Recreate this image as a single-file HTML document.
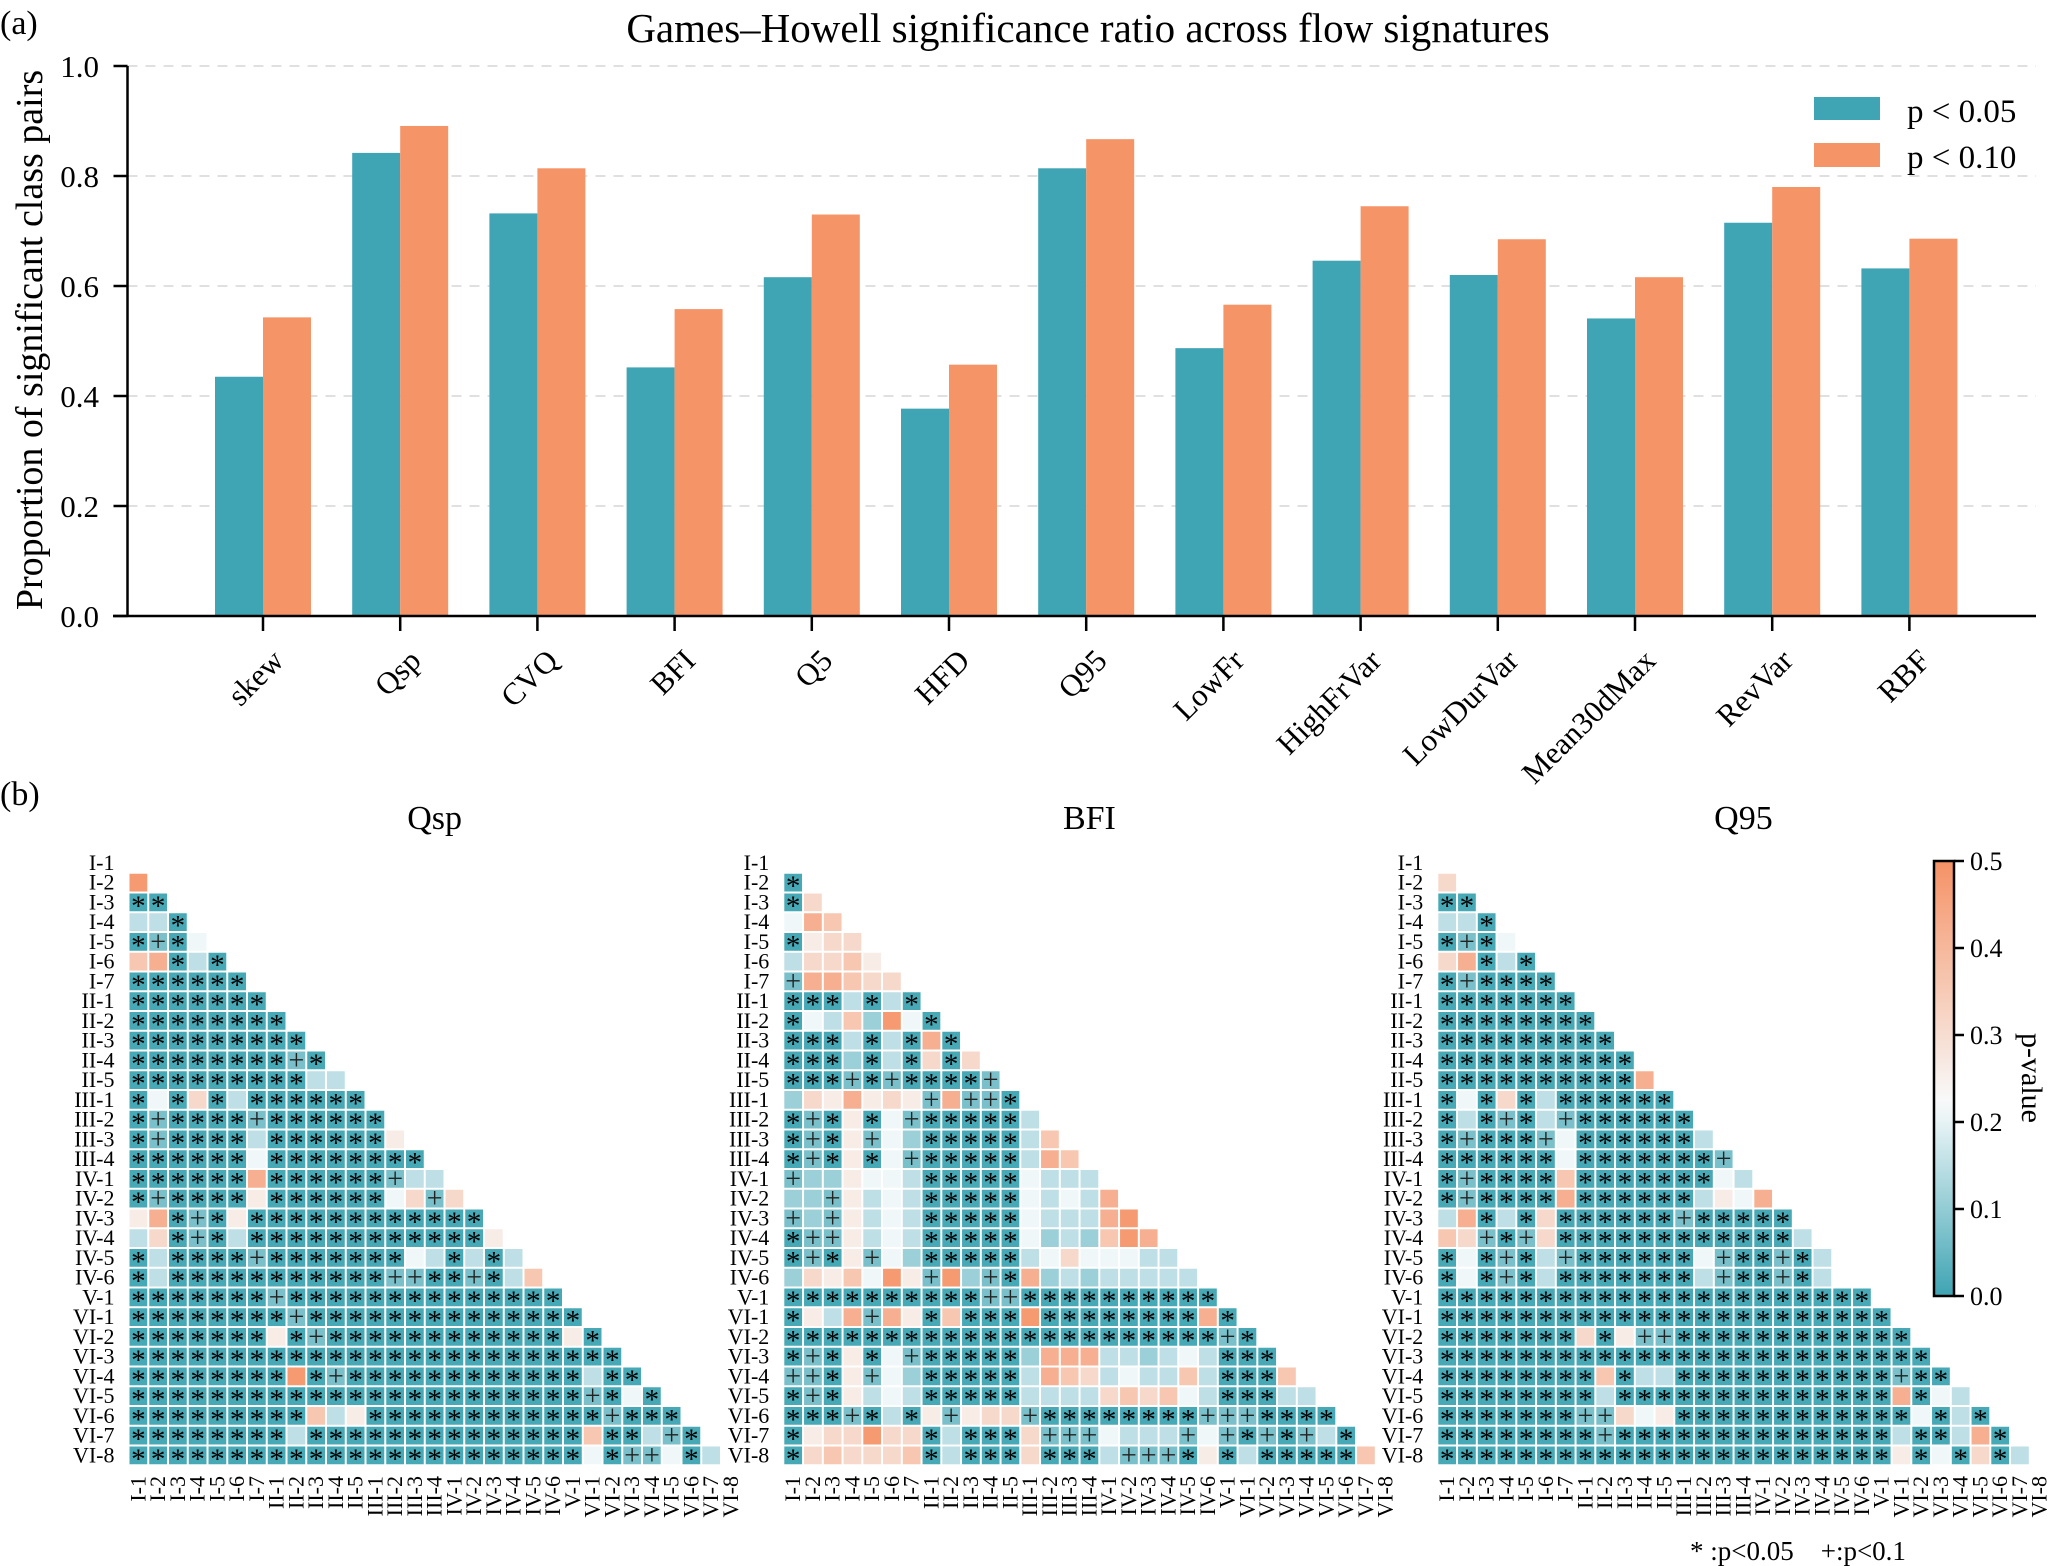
<!DOCTYPE html>
<html><head><meta charset="utf-8"><style>
body{margin:0;background:#fff;}
svg{display:block;font-family:"Liberation Serif",serif;}
</style></head><body>
<svg id="fig" width="2067" height="1566" viewBox="0 0 2067 1566" xmlns="http://www.w3.org/2000/svg">
<rect width="2067" height="1566" fill="#fff"/>
<text x="0" y="34" font-size="34">(a)</text>
<text x="1088" y="42" font-size="41" text-anchor="middle">Games–Howell significance ratio across flow signatures</text>
<text x="0" y="805" font-size="34">(b)</text>
<text transform="translate(42,340) rotate(-90)" font-size="38" text-anchor="middle">Proportion of significant class pairs</text>
<g id="bars"></g>
<g id="heat"></g>
<text x="1690" y="1560" font-size="27" xml:space="preserve">* :p&lt;0.05    +:p&lt;0.1</text>
</svg>
<script>
const categories=["skew","Qsp","CVQ","BFI","Q5","HFD","Q95","LowFr","HighFrVar","LowDurVar","Mean30dMax","RevVar","RBF"];
const p05=[0.435,0.842,0.732,0.452,0.616,0.377,0.814,0.487,0.646,0.620,0.541,0.715,0.632];
const p10=[0.543,0.891,0.814,0.558,0.730,0.457,0.867,0.566,0.745,0.685,0.616,0.780,0.686];
const yTicks=["0.0","0.2","0.4","0.6","0.8","1.0"];
const classLabels=["I-1","I-2","I-3","I-4","I-5","I-6","I-7","II-1","II-2","II-3","II-4","II-5","III-1","III-2","III-3","III-4","IV-1","IV-2","IV-3","IV-4","IV-5","IV-6","V-1","VI-1","VI-2","VI-3","VI-4","VI-5","VI-6","VI-7","VI-8"];
const pLevels=[0.01,0.07,0.11,0.15,0.21,0.26,0.31,0.36,0.42,0.48];
const cbTicks=["0.0","0.1","0.2","0.3","0.4","0.5"];
const qspRows=["","9","00","330","0104","78030","000000","0000000","00000000","000000000","0000000010","00000000033",
"040603000000","0100001000000","01000030000005","000000400000000","0000008000000133","01000050000004616","580105000000000000","3601030000000000005","03000010000000430303","030000000000011001037",
"0000000100000000000000","00000000100000000000000","000000050100000000000050","0000000000000000000000000","00000000901000000000000300","000000000000000000000001040","0000000007350000000000001000","00000000300000000000000700310","000000000000000000000004011403"];
const bfiRows=["","0","06","487","0566","36675","188766","0003030","04372940","000303080","0002030606","00010100001",
"265856518110","0105041000003","01051420000037","010504100000387","1225443000004333","22153430000043438","121534300000433389","0115343000004232798","01051420000034644433","265749519210823233333",
"0000000000110000000000","05381850700090000000080","000000000000000000000010","0105041000002888332343000","11051420000038763433730007","010534300000333367674300033","0001030515661000000001110000","05669660300061114333141010130","067666703000600031110503000007"];
const q95Rows=["","6","00","330","0104","68030","010000","0000000","00000000","000000000","0000000000","00000000008",
"040603000000","0301031000000","01000140000003","000000400000001","0100007000000043","01000080000003548","380306000000100000","7610160000000000003","04010310000004100103","04010300000003100103",
"0000000000000000000000","00000000000000000000000","000000060511000000000000","0000000000000000000000000","00000000703300000000000100","000000003000000000000008043","0000000116450000000000004030","00000000100000000000000300380","000000000000000000000005040603"];
</script>
<script>
const NS="http://www.w3.org/2000/svg";
function mk(tag,attrs,parent,txt){const e=document.createElementNS(NS,tag);for(const k in attrs)e.setAttribute(k,attrs[k]);if(txt!==undefined)e.textContent=txt;parent.appendChild(e);return e;}
const bars=document.getElementById('bars');
const y0=616,yScale=550,xAxisL=113,xAxisR=2036,axisX=127.5;
const yPos=v=>y0-v*yScale;
const pitch=137.2,firstC=263,bw=48;
const xC=i=>firstC+i*pitch;
yTicks.forEach(t=>{const v=parseFloat(t);
 if(v>0){const g=mk('line',{x1:axisX,x2:xAxisR,y1:yPos(v),y2:yPos(v),stroke:'#e0e0e0','stroke-width':2,'stroke-dasharray':'10,8'},bars);
 
 }
 const tk=mk('line',{x1:axisX-14,x2:axisX,y1:yPos(v),y2:yPos(v),stroke:'#000','stroke-width':2.5},bars);
 
 
 const tl=mk('text',{x:99,y:yPos(v)+11,'font-size':31,'text-anchor':'end'},bars,t);
 
 
});
categories.forEach((c,i)=>{
 const cx=xC(i);
 const b1=mk('rect',{x:cx-bw,y:yPos(p05[i]),width:bw,height:p05[i]*yScale,fill:'#3fa4b3'},bars);
 
 
 const b2=mk('rect',{x:cx,y:yPos(p10[i]),width:bw,height:p10[i]*yScale,fill:'#f59467'},bars);
 
 
 const tk=mk('line',{x1:cx,x2:cx,y1:y0,y2:y0+15,stroke:'#000','stroke-width':2.5},bars);
 
 
 const tl=mk('text',{transform:`translate(${cx+6},${y0+30}) rotate(-45)`,'font-size':31,'text-anchor':'end',dy:'0.75em'},bars,c);
 
 
});
const ax1=mk('line',{x1:axisX,x2:axisX,y1:yPos(1),y2:y0+1,stroke:'#000','stroke-width':2.5},bars);


const ax2=mk('line',{x1:xAxisL,x2:xAxisR,y1:y0,y2:y0,stroke:'#000','stroke-width':2.5},bars);


const lg=mk('g',{},bars);


const le1=mk('rect',{x:1814,y:97,width:66,height:23,fill:'#3fa4b3'},lg);


const lt1=mk('text',{x:1907,y:122,'font-size':33},lg,'p < 0.05');


const le2=mk('rect',{x:1814,y:143,width:66,height:24,fill:'#f59467'},lg);


const lt2=mk('text',{x:1907,y:168,'font-size':33},lg,'p < 0.10');


const heat=document.getElementById('heat');
function color(p){const T=[63,164,179],W=[248,251,252],O=[245,146,102];
 let a,b,t; if(p<=0.22){a=T;b=W;t=p/0.22;}else{a=W;b=O;t=Math.min(1,(p-0.22)/0.28);}
 return `rgb(${a.map((v,k)=>Math.round(v+(b[k]-v)*t)).join(',')})`;}
const cell=19.75,gridTop=853;
function drawHeat(rows,x0,title,showRowLabels){
 const g=mk('g',{},heat);
 
 
 const tt=mk('text',{x:x0+cell*31/2,y:829,'font-size':34,'text-anchor':'middle'},g,title);
 
 
 rows.forEach((r,i)=>{
  for(let j=0;j<r.length;j++){
   const p=pLevels[+r[j]];
   const x=x0+j*cell,y=gridTop+i*cell;
   const c=mk('rect',{x:x+1,y:y+1,width:cell-2,height:cell-2,fill:color(p)},g);
   
   
   if(p<0.05){const s=mk('text',{x:x+cell/2,y:y+cell/2+13,'font-size':29,'text-anchor':'middle',fill:'#000'},g,'*');
    
    }
   else if(p<0.1){const s=mk('text',{x:x+cell/2,y:y+cell/2+9,'font-size':28,'text-anchor':'middle',fill:'#222'},g,'+');
    
    }
  }
 });
 classLabels.forEach((l,i)=>{
  if(showRowLabels){const t=mk('text',{x:x0-14,y:gridTop+i*cell+cell/2+7,'font-size':22,'text-anchor':'end'},g,l);
   
   }
  const t2=mk('text',{transform:`translate(${x0+i*cell+cell/2+7},1476) rotate(-90)`,'font-size':22,'text-anchor':'end'},g,l);
  
  
 });
}
drawHeat(qspRows,128.5,'Qsp',true);
drawHeat(bfiRows,783.3,'BFI',true);
drawHeat(q95Rows,1437.3,'Q95',true);
const cb=mk('g',{},heat);


const defs=mk('defs',{},cb);
const gr=mk('linearGradient',{id:'cbg',x1:0,y1:1,x2:0,y2:0},defs);
for(let k=0;k<=20;k++){const p=k*0.025;mk('stop',{offset:(p/0.5*100)+'%','stop-color':color(p)},gr);}
const cbX=1934,cbW=20,cbBot=1296,cbTop=861;
mk('rect',{x:cbX,y:cbTop,width:cbW,height:cbBot-cbTop,fill:'url(#cbg)',stroke:'#000','stroke-width':2.5},cb);
cbTicks.forEach(t=>{const v=parseFloat(t);const y=cbBot-v/0.5*(cbBot-cbTop);
 const l=mk('line',{x1:cbX+cbW,x2:cbX+cbW+10,y1:y,y2:y,stroke:'#000','stroke-width':2.5},cb);
 
 
 const tx=mk('text',{x:cbX+cbW+16,y:y+9,'font-size':26},cb,t);
 
 
});
const cbl=mk('text',{transform:'translate(2022,1078) rotate(90)','font-size':30,'text-anchor':'middle'},cb,'p-value');


</script>
</body></html>
